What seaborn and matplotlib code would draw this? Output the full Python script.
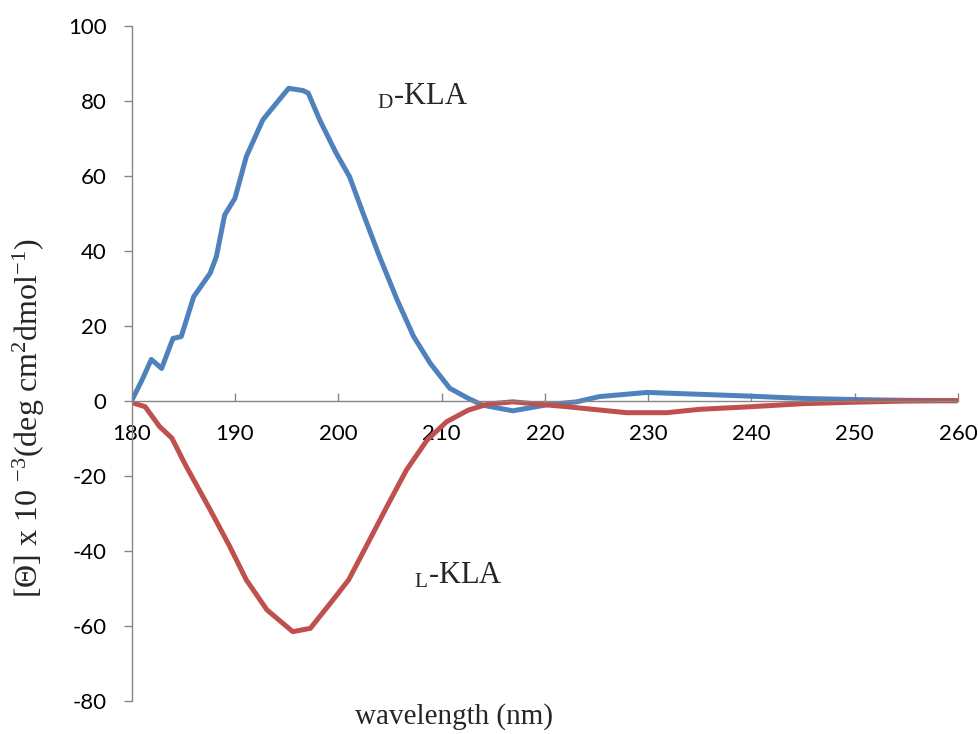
import numpy as np
import pandas as pd
import seaborn as sns
from matplotlib import pyplot as plt

# CD spectra (wavelength in nm, [theta] x 10^-3)
wl_d = [180, 181, 181.9, 182.9, 184.0, 184.8, 186.0, 187.6, 188.2, 189.0, 190.0,
        191.1, 192.7, 194.0, 195.2, 196.6, 197.1, 198.2, 199.8, 201.1, 202.4,
        204.0, 205.7, 207.3, 208.9, 210.8, 212.6, 214.0, 216.9, 220.2, 223.1,
        225.3, 229.9, 235, 240, 245, 250, 255, 260]
theta_d = [0, 5.5, 11.0, 8.6, 16.6, 17.1, 27.7, 34.0, 38.4, 49.5, 54.0,
           65.1, 74.9, 79.3, 83.3, 82.7, 82.0, 74.9, 66.0, 59.7, 50.0,
           38.4, 26.9, 17.1, 10.0, 3.3, 0.6, -1.2, -2.7, -1.1, -0.3,
           1.1, 2.2, 1.7, 1.2, 0.6, 0.3, 0.1, 0]

wl_l = [180, 181.3, 182.7, 183.9, 185.2, 187.6, 189.5, 191.1, 193.1, 195.6, 197.3,
        199.5, 201.0, 202.7, 204.7, 206.6, 208.6, 210.5, 212.6, 214.5, 216.9,
        222.1, 227.9, 231.8, 235, 240, 245, 250, 255, 260]
theta_l = [-0.5, -1.6, -6.9, -10.0, -17.1, -29.1, -38.9, -47.8, -55.8, -61.6, -60.7,
           -53.1, -47.8, -38.9, -28.3, -18.5, -10.5, -5.6, -2.5, -0.9, -0.3,
           -1.6, -3.2, -3.2, -2.3, -1.6, -0.8, -0.4, -0.1, 0]

x_ticks = list(range(180, 261, 10))
y_ticks = list(range(-80, 101, 20))

sns.set_theme(style="white")
plt.rcParams['font.family'] = ['Lato', 'DejaVu Sans']
plt.rcParams['axes.unicode_minus'] = False
plt.rcParams['mathtext.fontset'] = 'custom'
plt.rcParams['mathtext.rm'] = 'Liberation Serif'
plt.rcParams['mathtext.it'] = 'Liberation Serif:italic'
plt.rcParams['mathtext.bf'] = 'Liberation Serif:bold'

fig = plt.figure(figsize=(9.79, 7.34), dpi=100)
ax = fig.add_axes([0.1345, 0.0454, 0.844, 0.9196])

sns.lineplot(x=wl_d, y=theta_d, color='#4F81BD', lw=3.6, ax=ax)
sns.lineplot(x=wl_l, y=theta_l, color='#C0504D', lw=3.6, ax=ax)
for line in ax.lines:
    line.set_solid_joinstyle('round')
    line.set_solid_capstyle('round')

ax.set_xlim(180, 260)
ax.set_ylim(-80, 100)
ax.set_xticks(x_ticks)
ax.set_yticks(y_ticks)

axis_grey = '#868686'
ax.spines['top'].set_visible(False)
ax.spines['right'].set_visible(False)
ax.spines['bottom'].set_position(('data', 0))
for s in ['left', 'bottom']:
    ax.spines[s].set_color(axis_grey)
    ax.spines[s].set_linewidth(1.0)

ax.tick_params(axis='x', direction='in', length=6, width=1, color=axis_grey,
               pad=17, labelsize=16, labelcolor='black', bottom=True)
ax.tick_params(axis='y', direction='out', length=6, width=1, color=axis_grey,
               pad=12, labelsize=16, labelcolor='black', left=True)

# curve labels
ax.text(203.8, 81.0, r"$_{\mathrm{D}}$-KLA", family='Liberation Serif',
        fontsize=22, va='center', ha='left')
ax.text(207.3, -46.6, r"$_{\mathrm{L}}$-KLA", family='Liberation Serif',
        fontsize=22, va='center', ha='left')

ax.set_xlabel("wavelength (nm)", family='Liberation Serif', fontsize=21)
ax.xaxis.set_label_coords(0.39, -0.004)
ax.set_ylabel(r"[Θ] x 10 $^{-3}$(deg cm$^{2}$dmol$^{-1}$)",
              family='Liberation Serif', fontsize=23)
ax.yaxis.set_label_coords(-0.1025, 0.419)

fig.savefig('out.png', dpi=100)
